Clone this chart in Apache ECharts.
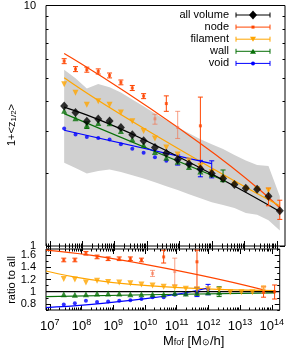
<!DOCTYPE html>
<html><head><meta charset="utf-8">
<script src="https://cdn.jsdelivr.net/npm/echarts@6/dist/echarts.min.js"></script>
<style>html,body{margin:0;padding:0;background:#fff}#c{width:287px;height:349px}</style>
</head><body><div id="c"></div>
<script>
// ---------- data ----------
const mass = [2.76e7,6.18e7,1.38e8,3.10e8,6.93e8,1.55e9,3.48e9,7.78e9,1.74e10,3.90e10,8.73e10,1.95e11,4.38e11,9.80e11,2.19e12,4.91e12,1.10e13,2.46e13,5.51e13,1.23e14];
const allVol   = [3.82,3.59,3.30,3.37,3.31,3.11,2.90,2.74,2.57,2.43,2.29,2.19,2.09,2.00,1.91,1.80,1.74,1.72,1.61,1.40];
const nodeV    = [5.87,5.44,5.41,5.32,5.12,4.79,4.54,4.20,3.38,3.91,3.11,null,3.16,null,null,null,null,null,1.59,1.40];
const nodeLo   = [5.73,5.31,5.28,5.19,5.00,4.68,4.43,4.10,3.21,3.63,2.80,null,2.13,null,null,null,null,null,1.47,1.29];
const nodeHi   = [6.01,5.57,5.54,5.45,5.24,4.90,4.65,4.30,3.53,4.21,3.63,null,4.16,null,null,null,null,null,1.74,1.55];
const nodeFaint= [0,0,0,0,0,0,0,0,1,0,1,0,0,0,0,0,0,0,0,0];
const filV     = [4.70,4.34,3.87,4.00,3.87,3.59,3.30,3.01,2.80,2.57,2.40,2.27,2.15,2.03,1.91,1.80,1.73,1.72,1.70,null];
const wallV    = [3.65,3.40,3.18,3.25,3.24,3.01,2.78,2.63,2.46,2.33,2.24,2.13,2.04,1.99,1.90,null,null,null,null,null];
const wallLo   = [null,null,3.08,null,null,null,null,null,null,null,null,null,null,null,1.85,null,null,null,null,null];
const wallHi   = [null,null,3.28,null,null,null,null,null,null,null,null,null,null,null,2.07,null,null,null,null,null];
const voidV    = [3.08,2.91,2.84,2.81,2.77,2.65,2.54,2.44,2.34,2.26,2.27,2.20,2.08,2.02,null,null,null,null,null,null];
const voidLo   = [null,null,null,null,null,null,null,null,null,null,2.17,null,1.94,1.92,null,null,null,null,null,null];
const voidHi   = [null,null,null,null,null,null,null,null,null,null,2.39,null,2.27,2.26,null,null,null,null,null,null];
const bandLo   = [2.22,2.11,2.00,2.05,2.08,2.03,1.97,1.91,1.84,1.77,1.71,1.64,1.58,1.52,1.48,1.44,1.37,1.35,1.28,1.16];
const bandHi   = [5.41,4.98,4.52,4.72,4.57,4.35,4.07,3.81,3.56,3.33,3.12,2.94,2.78,2.65,2.53,2.39,2.27,2.17,2.15,1.61];
// fit curves (top panel), sampled where read
const fitMass     = [2.76e7,7.78e9,1.23e14];
const allFit      = [3.78,2.77,1.39];
const filFit      = [5.01,3.09,1.47];
const nodeFitMass = [2.76e7,4.38e11,1.23e14];
const nodeFit     = [6.32,2.67,1.44];
const wallFitMass = [2.76e7,2.19e12];
const wallFit     = [3.55,1.88];
const voidFitMass = [2.76e7,9.80e11];
const voidFit     = [3.03,2.20];
// ratio panel
const rNode    = [1.52,1.52,1.63,1.57,1.54,1.54,1.54,1.52,1.30,1.57,1.33,null,1.49,null,null,null,null,null,0.99,1.00];
const rNodeLo  = [1.49,1.49,1.60,1.54,1.51,1.51,1.51,1.49,1.25,1.47,1.11,null,0.98,null,null,null,null,null,0.91,0.88];
const rNodeHi  = [1.55,1.55,1.66,1.60,1.57,1.57,1.57,1.55,1.35,1.68,1.55,null,1.68,null,null,null,null,null,1.08,1.11];
const rFil     = [1.21,1.20,1.15,1.18,1.16,1.15,1.14,1.12,1.10,1.08,1.07,1.05,1.04,1.04,1.03,0.99,0.99,0.99,1.04,null];
const rFilLo   = [null,null,null,null,null,null,null,null,null,null,null,null,null,null,null,null,null,null,0.98,null];
const rFilHi   = [null,null,null,null,null,null,null,null,null,null,null,null,null,null,null,null,null,null,1.10,null];
const rWall    = [0.96,0.95,0.96,0.97,0.97,0.97,0.96,0.96,0.96,0.96,0.98,0.97,0.98,0.99,0.99,null,null,null,null,null];
const rWallLo  = [null,null,null,null,null,null,null,null,null,null,null,null,null,null,0.92,null,null,null,null,null];
const rWallHi  = [null,null,null,null,null,null,null,null,null,null,null,null,null,null,1.08,null,null,null,null,null];
const rVoid    = [0.79,0.81,0.85,0.83,0.84,0.85,0.86,0.88,0.91,0.91,0.95,0.96,0.99,1.04,null,null,null,null,null,null];
const rVoidLo  = [null,null,null,null,null,null,null,null,null,null,null,null,0.92,0.95,null,null,null,null,null,null];
const rVoidHi  = [null,null,null,null,null,null,null,null,null,null,null,null,1.07,1.12,null,null,null,null,null,null];
const rLineMass = [7.6e6,1.23e10,1.26e14];
const rNodeLine = [1.68,1.44,0.98];
const rFilLine  = [1.34,1.10,1.02];
const rWallLine = [0.92,0.95,0.98];
const rVoidLineMass = [7.6e6,1.23e10,9.8e11];
const rVoidLine = [0.74,0.89,1.06];
const rAllLineMass = [7.6e6,1.78e14];
const rAllLine  = [1,1];
// axes / labels
const xRange = [7.6e6,1.78e14];
const xMajorExp = [7,8,9,10,11,12,13,14];
const yTopRange = [1,10];
const yTopLabels = ['1','10'];
const yBotRange = [0.7,1.7];
const yBotMajor = [0.8,1.0,1.2,1.4,1.6];
const yBotMajorLabels = ['0.8','1','1.2','1.4','1.6'];
const yBotMinor = [0.7,0.9,1.1,1.3,1.5,1.7];
const legendNames = ['all volume','node','filament','wall','void'];

// ---------- build ----------
const L = Math.log10;
const C = {all:'#000000', node:'#ff4500', fil:'#ffa500', wall:'#087008', void:'#0000ff'};
const FAINT = {node:'rgba(245,110,70,0.65)', fil:'rgba(255,180,60,0.7)'};
const FONT = 'Liberation Sans, Arial, sans-serif';
const XMIN = L(xRange[0]), XMAX = L(xRange[1]);
const xMinor = []; for (let n=6;n<=14;n++) for (let m=2;m<=9;m++){const v=n+L(m); if(v>XMIN&&v<XMAX) xMinor.push(v);}
const yTopMinor = []; for (let m=2;m<=9;m++) yTopMinor.push(L(m));

function xAx(grid,pos,ticks,len,labels){
  return {type:'value',gridIndex:grid,position:pos,min:XMIN,max:XMAX,
    axisLine:{show:false},splitLine:{show:false},
    axisTick:{show:true,inside:true,length:len,customValues:ticks,lineStyle:{color:'#000',width:1}},
    axisLabel: labels?{show:true,customValues:xMajorExp,margin:8,
      formatter:v=>'{b|10}{s|'+Math.round(v)+'}',
      rich:{b:{fontSize:13,fontFamily:FONT,color:'#000',lineHeight:16},s:{fontSize:9,fontFamily:FONT,color:'#000',verticalAlign:'top',lineHeight:10}}}:{show:false}};
}
function yAx(grid,pos,min,max,ticks,len,labelVals,labelTxt){
  return {type:'value',gridIndex:grid,position:pos,min,max,
    axisLine:{show:false},splitLine:{show:false},
    axisTick:{show:true,inside:true,length:len,customValues:ticks,lineStyle:{color:'#000',width:1}},
    axisLabel: labelVals?{show:true,customValues:labelVals,margin:10,fontSize:11,fontFamily:FONT,color:'#000',
      formatter:v=>{const i=labelVals.findIndex(t=>Math.abs(t-v)<1e-6);return labelTxt[i];}}:{show:false}};
}
const xAxes=[
  xAx(0,'bottom',xMajorExp,5,false), xAx(0,'bottom',xMinor,2.5,false),
  xAx(0,'top',xMajorExp,5,false), xAx(0,'top',xMinor,2.5,false),
  xAx(1,'bottom',xMajorExp,5,true), xAx(1,'bottom',xMinor,2.5,false),
  xAx(1,'top',xMajorExp,5,false), xAx(1,'top',xMinor,2.5,false)
];
const yAxes=[
  yAx(0,'left',L(yTopRange[0]),L(yTopRange[1]),[0,1],5,[0,1],yTopLabels),
  yAx(0,'left',L(yTopRange[0]),L(yTopRange[1]),yTopMinor,2.5,null),
  yAx(0,'right',L(yTopRange[0]),L(yTopRange[1]),[0,1],5,null),
  yAx(0,'right',L(yTopRange[0]),L(yTopRange[1]),yTopMinor,2.5,null),
  yAx(1,'left',yBotRange[0],yBotRange[1],yBotMajor,5,yBotMajor,yBotMajorLabels),
  yAx(1,'left',yBotRange[0],yBotRange[1],yBotMinor,2.5,null),
  yAx(1,'right',yBotRange[0],yBotRange[1],yBotMajor,5,null),
  yAx(1,'right',yBotRange[0],yBotRange[1],yBotMinor,2.5,null)
];

const TOP={xAxisIndex:0,yAxisIndex:0}, BOT={xAxisIndex:4,yAxisIndex:4};
const series=[];
function pts(vals,logY,faint,fcol){const out=[];mass.forEach((m,i)=>{if(vals[i]!=null){const d={value:[L(m),logY?L(vals[i]):vals[i]]};if(faint&&faint[i])d.itemStyle={color:fcol};out.push(d);}});return out;}
function lineData(ms,vals,logY){return ms.map((m,i)=>[L(m),logY?L(vals[i]):vals[i]]);}
function fitLine(ax,ms,vals,logY,color,z){series.push(Object.assign({type:'line',data:lineData(ms,vals,logY),symbol:'none',smooth:ms.length>2?0.6:false,silent:true,z,lineStyle:{color,width:1.2},animation:false},ax));}
function scat(ax,vals,logY,color,symbol,size,rot,z,faint,fcol){series.push(Object.assign({type:'scatter',data:pts(vals,logY,faint,fcol),symbol,symbolSize:size,symbolRotate:rot||0,itemStyle:{color},silent:true,z,animation:false},ax));}
function errs(ax,lo,hi,logY,color,faint,fcol,z){
  const d=[];mass.forEach((m,i)=>{if(lo[i]!=null&&hi[i]!=null)d.push([L(m),logY?L(lo[i]):lo[i],logY?L(hi[i]):hi[i],faint?faint[i]:0]);});
  series.push(Object.assign({type:'custom',data:d,silent:true,z,animation:false,
    renderItem:(p,api)=>{const x=api.value(0);const a=api.coord([x,api.value(1)]),b=api.coord([x,api.value(2)]);
      const col=api.value(3)?fcol:color;const st={stroke:col,lineWidth:1};
      return {type:'group',children:[
        {type:'line',shape:{x1:a[0],y1:a[1],x2:b[0],y2:b[1]},style:st},
        {type:'line',shape:{x1:a[0]-2.5,y1:a[1],x2:a[0]+2.5,y2:a[1]},style:st},
        {type:'line',shape:{x1:b[0]-2.5,y1:b[1],x2:b[0]+2.5,y2:b[1]},style:st}]};}},ax));
}
// band: polygon between bandLo and bandHi, vertices mapped by the axes
const bandData = mass.map((m,i)=>[L(m),L(bandLo[i]),L(bandHi[i])]);
series.push(Object.assign({type:'custom',data:bandData,silent:true,z:1,animation:false,clip:true,
  renderItem:(p,api)=>{
    if(p.dataIndex!==0) return null;
    const up=bandData.map(d=>api.coord([d[0],d[2]]));
    const lo=bandData.map(d=>api.coord([d[0],d[1]])).reverse();
    return {type:'polygon',shape:{points:up.concat(lo)},style:{fill:'#d0d0d0'}};
  }},TOP));
const filFaintB=[0,0,0,0,0,0,0,0,0,0,0,0,0,0,0,0,0,0,1,0];
// top panel
fitLine(TOP,nodeFitMass,nodeFit,true,C.node,2);
fitLine(TOP,fitMass,filFit,true,C.fil,2);
fitLine(TOP,wallFitMass,wallFit,true,C.wall,2);
fitLine(TOP,voidFitMass,voidFit,true,C.void,2);
fitLine(TOP,fitMass,allFit,true,C.all,2);
errs(TOP,nodeLo,nodeHi,true,C.node,nodeFaint,FAINT.node,3);
errs(TOP,wallLo,wallHi,true,C.wall,null,null,3);
errs(TOP,voidLo,voidHi,true,C.void,null,null,3);
scat(TOP,voidV,true,C.void,'circle',4,0,4);
scat(TOP,wallV,true,C.wall,'triangle',6,0,4);
scat(TOP,filV,true,C.fil,'triangle',6,180,4);
scat(TOP,nodeV,true,C.node,'rect',3,0,4,nodeFaint,FAINT.node);
scat(TOP,allVol,true,C.all,'diamond',[8,9],0,5);
// bottom panel
fitLine(BOT,rLineMass,rNodeLine,false,C.node,2);
fitLine(BOT,rLineMass,rFilLine,false,C.fil,2);
fitLine(BOT,rLineMass,rWallLine,false,C.wall,2);
fitLine(BOT,rVoidLineMass,rVoidLine,false,C.void,2);
fitLine(BOT,rAllLineMass,rAllLine,false,C.all,2);
errs(BOT,rNodeLo,rNodeHi,false,C.node,nodeFaint,FAINT.node,3);
errs(BOT,rFilLo,rFilHi,false,C.fil,filFaintB,FAINT.fil,3);
errs(BOT,rWallLo,rWallHi,false,C.wall,null,null,3);
errs(BOT,rVoidLo,rVoidHi,false,C.void,null,null,3);
scat(BOT,rVoid,false,C.void,'circle',4,0,4);
scat(BOT,rWall,false,C.wall,'triangle',6,0,4);
scat(BOT,rFil,false,C.fil,'triangle',6,180,4,filFaintB,FAINT.fil);
scat(BOT,rNode,false,C.node,'rect',3,0,4,nodeFaint,FAINT.node);

// legend + titles (graphics)
const legendCol=[C.all,C.node,C.fil,C.wall,C.void];
const gfx=[];
legendNames.forEach((n,i)=>{
  const y=15+12.1*i;
  gfx.push({type:'text',x:229,y,style:{text:n,align:'right',verticalAlign:'middle',font:'11px '+FONT,fill:'#000'}});
  gfx.push({type:'line',shape:{x1:236,y1:y,x2:270,y2:y},style:{stroke:legendCol[i],lineWidth:1}});
  gfx.push({type:'line',shape:{x1:236,y1:y-2.5,x2:236,y2:y+2.5},style:{stroke:legendCol[i],lineWidth:1}});
  gfx.push({type:'line',shape:{x1:270,y1:y-2.5,x2:270,y2:y+2.5},style:{stroke:legendCol[i],lineWidth:1}});
  const cx=253;
  if(i===0) gfx.push({type:'polygon',shape:{points:[[cx,y-4.5],[cx+4,y],[cx,y+4.5],[cx-4,y]]},style:{fill:C.all}});
  if(i===1) gfx.push({type:'rect',shape:{x:cx-1.5,y:y-1.5,width:3,height:3},style:{fill:C.node}});
  if(i===2) gfx.push({type:'polygon',shape:{points:[[cx-3,y-2.5],[cx+3,y-2.5],[cx,y+2.5]]},style:{fill:C.fil}});
  if(i===3) gfx.push({type:'polygon',shape:{points:[[cx-3,y+2.5],[cx+3,y+2.5],[cx,y-2.5]]},style:{fill:C.wall}});
  if(i===4) gfx.push({type:'circle',shape:{cx,cy:y,r:2},style:{fill:C.void}});
});
gfx.push({type:'text',x:12,y:125,rotation:Math.PI/2,style:{text:'1+<z{s|1/2}>',align:'center',verticalAlign:'middle',font:'11px '+FONT,fill:'#000',rich:{s:{fontSize:8,fontFamily:FONT,verticalAlign:'bottom'}}}});
gfx.push({type:'text',x:12,y:280,rotation:Math.PI/2,style:{text:'ratio to all',align:'center',verticalAlign:'middle',font:'11px '+FONT,fill:'#000'}});
gfx.push({type:'text',x:163,y:341,style:{text:'M{s|fof} [M{s|⊙}/h]',align:'left',verticalAlign:'middle',font:'13px '+FONT,fill:'#000',rich:{s:{fontSize:9,fontFamily:FONT,verticalAlign:'bottom'}}}});

const chart=echarts.init(document.getElementById('c'),null,{renderer:'canvas'});
chart.setOption({animation:false,backgroundColor:'#fff',
  grid:[{left:46,top:5,width:239,height:241,show:true,borderColor:'#000',borderWidth:1,backgroundColor:'transparent'},
        {left:46,top:249,width:239,height:61,show:true,borderColor:'#000',borderWidth:1,backgroundColor:'transparent'}],
  xAxis:xAxes,yAxis:yAxes,series,graphic:gfx});
</script></body></html>
